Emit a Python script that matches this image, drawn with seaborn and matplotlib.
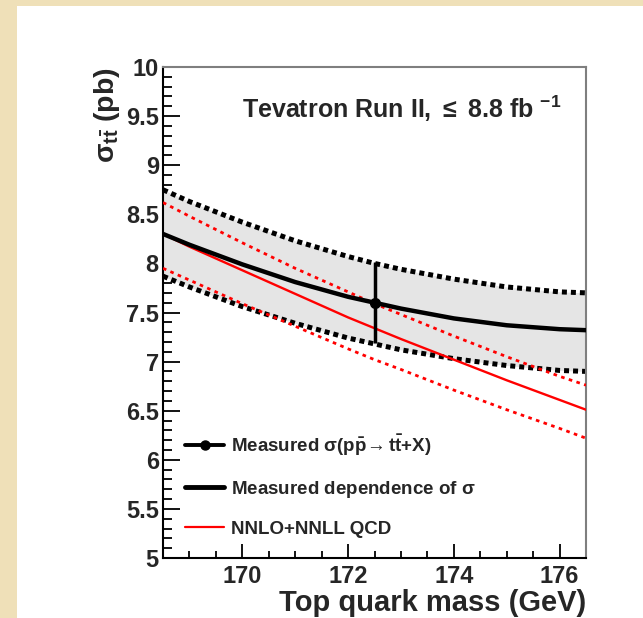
import numpy as np
import matplotlib
matplotlib.use('Agg')
import matplotlib.pyplot as plt
import seaborn as sns
from matplotlib.lines import Line2D
from matplotlib.patches import Rectangle
from matplotlib.ticker import MultipleLocator, FormatStrFormatter

masses = [168.5, 169.0, 170.0, 171.0, 172.0, 172.5, 173.0, 174.0, 175.0, 176.0, 176.5]

# measured dependence of sigma (central, upper and lower band edges), pb
meas_central = [8.30, 8.19, 7.99, 7.81, 7.66, 7.60, 7.54, 7.44, 7.37, 7.33, 7.32]
meas_upper = [8.75, 8.63, 8.42, 8.23, 8.07, 8.00, 7.94, 7.84, 7.76, 7.71, 7.70]
meas_lower = [7.87, 7.76, 7.56, 7.39, 7.24, 7.18, 7.12, 7.03, 6.96, 6.91, 6.90]

# NNLO+NNLL QCD prediction and its uncertainty, pb
theo_central = [8.30, 8.17, 7.93, 7.69, 7.45, 7.34, 7.23, 7.02, 6.81, 6.61, 6.51]
theo_upper = [8.62, 8.48, 8.21, 7.95, 7.71, 7.59, 7.48, 7.26, 7.05, 6.85, 6.76]
theo_lower = [7.95, 7.83, 7.59, 7.36, 7.13, 7.02, 6.92, 6.71, 6.51, 6.32, 6.22]

# measured cross section at reference mass
meas_mass = 172.5
meas_xsec = 7.60
meas_err = 0.41

sns.set_style('ticks')
plt.rcParams['font.family'] = ['Liberation Sans', 'DejaVu Sans']
plt.rcParams['font.weight'] = 'bold'
plt.rcParams['mathtext.fontset'] = 'custom'
plt.rcParams['mathtext.rm'] = 'Liberation Sans:bold'
plt.rcParams['mathtext.it'] = 'Liberation Sans:bold'
plt.rcParams['mathtext.bf'] = 'Liberation Sans:bold'

fig = plt.figure(figsize=(6.43, 6.18), dpi=100)
fig.patch.set_facecolor('#efe0b8')
fig.patches.append(Rectangle((17 / 643, 0), 1, (618 - 6) / 618, transform=fig.transFigure,
                             facecolor='white', edgecolor='none', zorder=-5))
ax = fig.add_axes([163 / 643, 60 / 618, 423 / 643, 491 / 618])
ax.set_facecolor('white')

ax.fill_between(masses, meas_lower, meas_upper, color='#e5e5e5', linewidth=0, zorder=1)
sq = (0, (1, 0.8))
sns.lineplot(x=masses, y=meas_upper, color='black', linewidth=3.6, linestyle=sq, ax=ax, zorder=2)
sns.lineplot(x=masses, y=meas_lower, color='black', linewidth=3.6, linestyle=sq, ax=ax, zorder=2)
rd = (0, (1.3, 1.6))
sns.lineplot(x=masses, y=theo_upper, color='red', linewidth=2, linestyle=rd, ax=ax, zorder=3)
sns.lineplot(x=masses, y=theo_lower, color='red', linewidth=2, linestyle=rd, ax=ax, zorder=3)
sns.lineplot(x=masses, y=theo_central, color='red', linewidth=1.7, ax=ax, zorder=3)
sns.lineplot(x=masses, y=meas_central, color='black', linewidth=3.2, ax=ax, zorder=4)
ax.errorbar([meas_mass], [meas_xsec], yerr=[meas_err], fmt='o', color='black',
            markersize=7, elinewidth=2.5, capsize=0, zorder=5)

ax.set_xlim(168.5, 176.5)
ax.set_ylim(5, 10)
ax.xaxis.set_major_locator(MultipleLocator(2))
ax.xaxis.set_minor_locator(MultipleLocator(0.5))
ax.yaxis.set_major_locator(MultipleLocator(0.5))
ax.yaxis.set_minor_locator(MultipleLocator(0.1))
ax.yaxis.set_major_formatter(FormatStrFormatter('%g'))
ax.tick_params(axis='both', which='both', direction='in', top=False, right=False,
               labelsize=17, width=1.3, color='black')
ax.tick_params(axis='y', which='major', length=12, pad=3)
ax.tick_params(axis='y', which='minor', length=6.5)
ax.tick_params(axis='x', which='major', length=10, pad=5)
ax.tick_params(axis='x', which='minor', length=5)
for lab in ax.get_xticklabels() + ax.get_yticklabels():
    lab.set_fontweight('bold')

for s in ['left', 'bottom']:
    ax.spines[s].set_color('black')
    ax.spines[s].set_linewidth(1.5)
for s in ['top', 'right']:
    ax.spines[s].set_color('#7f7f7f')
    ax.spines[s].set_linewidth(1.5)

ax.set_xlabel('Top quark mass (GeV)', fontsize=21, fontweight='bold', loc='right', labelpad=1)
ax.set_ylabel(r'$\sigma_{\mathrm{t\bar{t}}}$ (pb)', fontsize=20.5, fontweight='bold', loc='top', labelpad=3)

ax.text(170.0, 9.48, r'Tevatron Run II, $\leq$ 8.8 fb $^{-1}$', fontsize=18, fontweight='bold')

handles = [
    Line2D([], [], color='black', linewidth=2.8, marker='o', markersize=6.5),
    Line2D([], [], color='black', linewidth=3.5),
    Line2D([], [], color='red', linewidth=1.6),
]
labels = [
    r'Measured $\sigma$(p$\bar{\mathrm{p}}\!\rightarrow$t$\bar{\mathrm{t}}$+X)',
    r'Measured dependence of $\sigma$',
    'NNLO+NNLL QCD',
]
leg = ax.legend(handles, labels, loc='lower left', bbox_to_anchor=(0.03, 0.022), frameon=False,
                handlelength=2.1, handletextpad=0.35, labelspacing=1.12,
                borderpad=0, prop={'weight': 'bold', 'size': 13.5})

fig.savefig('out.png', dpi=100, facecolor=fig.get_facecolor())
